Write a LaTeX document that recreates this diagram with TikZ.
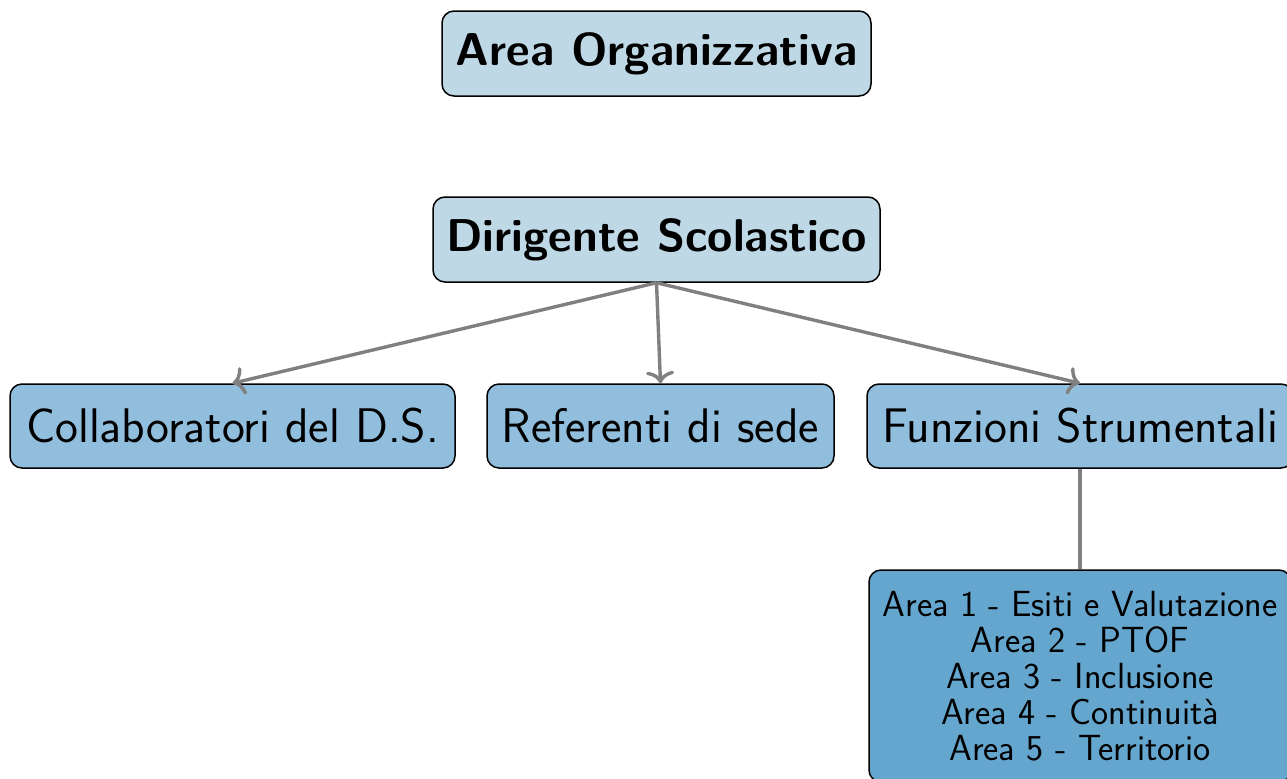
\documentclass[tikz,border=0pt]{standalone}
\usetikzlibrary{arrows.meta}
\definecolor{boxA}{RGB}{191,216,230}
\definecolor{boxB}{RGB}{145,190,221}
\definecolor{boxC}{RGB}{101,166,206}
\begin{document}
\begin{tikzpicture}[x=0.5pt,y=-0.5pt,
  box/.style={draw=black, line width=0.75pt, rounded corners=6pt, inner sep=0pt, align=center, text=black},
  topbox/.style={box, fill=boxA, font=\fontsize{23}{28}\selectfont\sffamily\bfseries, minimum height=42.5pt},
  midbox/.style={box, fill=boxB, font=\fontsize{24.3}{30}\selectfont\sffamily, minimum height=42pt},
  lowbox/.style={box, fill=boxC, font=\fontsize{18.2}{18}\selectfont\sffamily},
  conn/.style={draw=gray, line width=1.7pt},
  arr/.style={conn, -{To[length=6pt,width=14pt]}}]
\useasboundingbox (0,0) rectangle (1287,778);
\node[topbox, minimum width=214.5pt] (area) at (656.5,53.5) {Area Organizzativa};
\node[topbox, minimum width=223.5pt] (ds) at (656.5,239.5) {Dirigente Scolastico};
\node[midbox, minimum width=222.5pt] (coll) at (232.5,426) {Collaboratori del D.S.};
\node[midbox, minimum width=173.5pt] (ref) at (660.5,426) {Referenti di sede};
\node[midbox, minimum width=213pt] (fs) at (1080,426) {Funzioni Strumentali};
\node[lowbox, minimum width=211pt, minimum height=106pt] (aree) at (1080,676) {Area 1 - Esiti e Valutazione\\Area 2 - PTOF\\Area 3 - Inclusione\\Area 4 - Continuità\\Area 5 - Territorio};
\draw[arr] (ds.south) -- (coll.north);
\draw[arr] (ds.south) -- (ref.north);
\draw[arr] (ds.south) -- (fs.north);
\draw[conn] (fs.south) -- (aree.north);
\end{tikzpicture}
\end{document}
